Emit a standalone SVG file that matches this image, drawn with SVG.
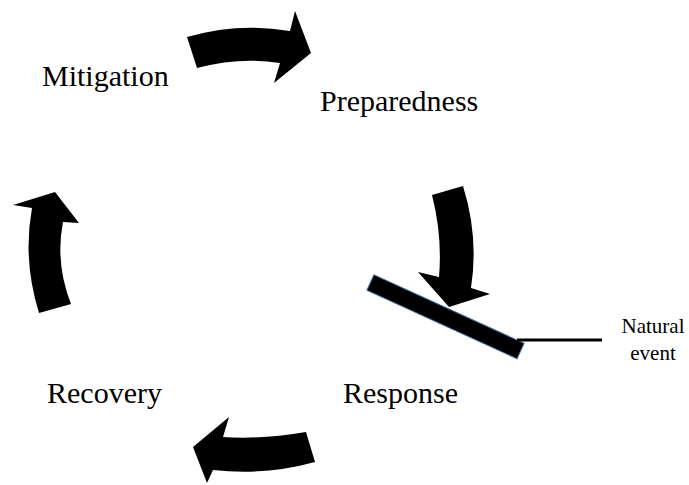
<svg xmlns="http://www.w3.org/2000/svg" width="689" height="485" viewBox="0 0 689 485">
  <style>
    .lbl { font-family: "Liberation Serif", "Times New Roman", serif; font-size: 30px; fill: #000; }
    .small { font-family: "Liberation Serif", "Times New Roman", serif; font-size: 21px; fill: #000; text-anchor: middle; }
    .arrow { fill: #000; stroke: none; }
  </style>
  <rect width="689" height="485" fill="#fff"/>
  <g id="connectors">
    <path class="arrow" d="M187,37 Q238,22 290,31 L295,11 L311,53 L274,83 L280,63 Q240,56.5 197,68 Z"/>
    <path class="arrow" d="M432,195 L463,186 Q479,237 471,288 L490,294 L449,307 L418,272 L439,277 Q442.5,236 432,195 Z"/>
    <path class="arrow" d="M229,417 L223,437 Q262,439.5 306,432 L315,462 Q264,476 213,470 L207,483 L193,447 Z"/>
    <path class="arrow" d="M55,192 L79,223 L63,222 Q55,263 71,304 L39,313 Q22.5,260 32,208 L13,205 Z"/>
  </g>
  <g id="mitigation"><text class="lbl" x="42" y="86">Mitigation</text></g>
  <g id="preparedness"><text class="lbl" x="320" y="111">Preparedness</text></g>
  <g id="response"><text class="lbl" x="343" y="403">Response</text></g>
  <g id="recovery"><text class="lbl" x="47" y="403">Recovery</text></g>
  <g id="natural-event">
    <rect x="-82.5" y="-8.5" width="165" height="17" fill="#000" stroke="#3a6a9a" stroke-width="1" transform="translate(445.5,316.8) rotate(24.5)"/>
    <line x1="517" y1="340" x2="602" y2="340" stroke="#000" stroke-width="3"/>
    <text class="small" x="653" y="333">Natural</text>
    <text class="small" x="653" y="360">event</text>
  </g>
</svg>
